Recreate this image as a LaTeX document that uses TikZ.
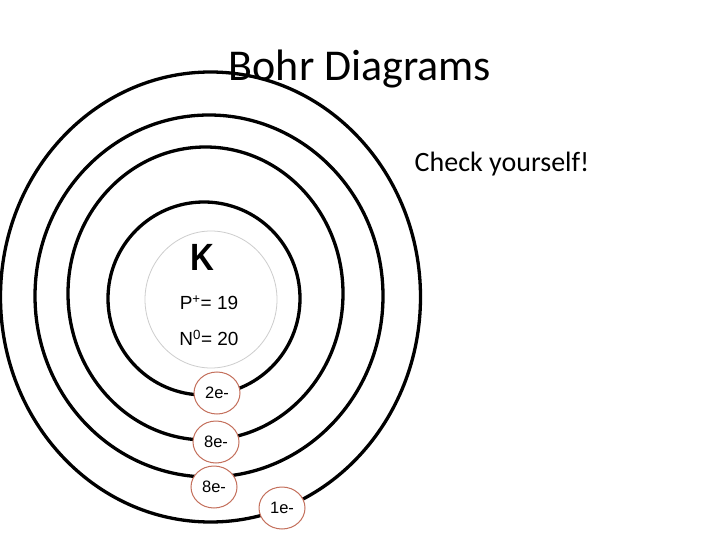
\documentclass[tikz,border=0pt]{standalone}
\usepackage{fontspec}
\setmainfont{Liberation Sans}
\newfontfamily\titlefont{Carlito}
\usetikzlibrary{shapes.geometric}
\definecolor{eborder}{RGB}{196,112,92}
\definecolor{nucgray}{RGB}{205,205,205}
\tikzset{
  ring/.style={ellipse, draw=black, line width=3.3pt, inner sep=0pt},
  nucleus/.style={ellipse, draw=nucgray, line width=0.8pt, inner sep=0pt},
  electron/.style={ellipse, draw=eborder, line width=1pt, fill=white, inner sep=0pt,
    minimum width=46pt, minimum height=42pt, font=\fontsize{16.5}{19}\selectfont},
  label/.style={inner sep=0pt, font=\fontsize{19}{22}\selectfont}
}
\begin{document}
\begin{tikzpicture}[x=1pt,y=-1pt]
\useasboundingbox (0,0) rectangle (720,540);
\fill[white] (0,0) rectangle (720,540);
% shells
\node[ring, minimum width=420pt, minimum height=450pt] (ring4) at (210.5,297) {};
\node[ring, minimum width=348pt, minimum height=362pt] (ring3) at (209,296) {};
\node[ring, minimum width=275pt, minimum height=293pt] (ring2) at (205.5,293.5) {};
\node[ring, minimum width=192pt, minimum height=193pt] (ring1) at (204,298.5) {};
% nucleus
\node[nucleus, minimum width=132pt, minimum height=137pt] (nuc) at (211,299.5) {};
\node[inner sep=0pt, font=\bfseries\fontsize{33}{36}\selectfont, yscale=1.15] (sym) at (202,257) {K};
\node[label] (prot) at (209,303) {P\textsuperscript{+}= 19};
\node[label] (neut) at (209,338) {N\textsuperscript{0}= 20};
% electrons
\node[electron] (e1) at (217,393) {2e-};
\node[electron] (e2) at (216,442) {8e-};
\node[electron] (e3) at (214,487) {8e-};
\node[electron] (e4) at (282,508) {1e-};
% titles
\node[anchor=base, inner sep=0pt, font=\titlefont\fontsize{44}{48}\selectfont] (title) at (360,81) {Bohr Diagrams};
\node[anchor=base, inner sep=0pt, font=\titlefont\fontsize{28}{32}\selectfont] (check) at (502,172) {Check yourself!};
\end{tikzpicture}
\end{document}
